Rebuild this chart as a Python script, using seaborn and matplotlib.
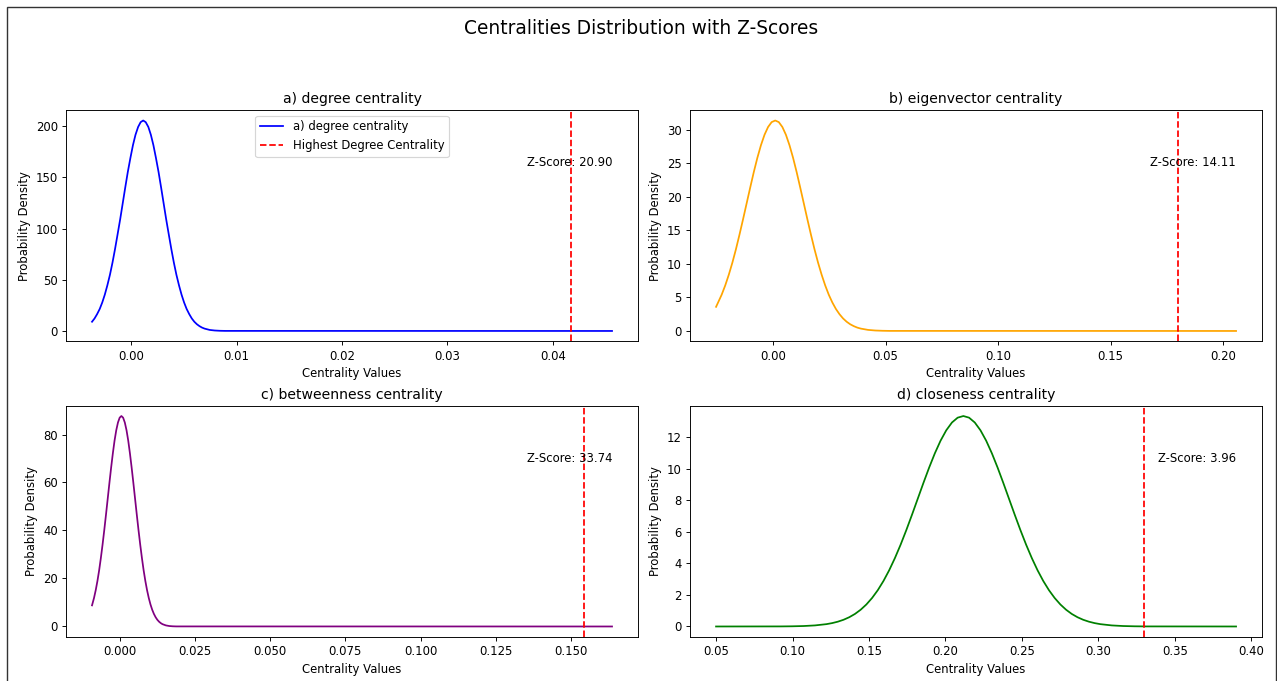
import matplotlib
matplotlib.use("Agg")

import matplotlib.pyplot as plt
from matplotlib.patches import Rectangle
import seaborn as sns

# --- values (x = centrality, y = density) ---
degree_x = [-0.00370, -0.00346, -0.00322, -0.00297, -0.00273, -0.00249, -0.00225,
            -0.00200, -0.00176, -0.00152, -0.00128, -0.00103, -0.00079, -0.00055,
            -0.00031, -0.00006, 0.00018, 0.00042, 0.00067, 0.00091, 0.00115,
            0.00139, 0.00164, 0.00188, 0.00212, 0.00236, 0.00261, 0.00285,
            0.00309, 0.00333, 0.00358, 0.00382, 0.00406, 0.00430, 0.00455,
            0.00479, 0.00503, 0.00527, 0.00552, 0.00576, 0.00600, 0.00624,
            0.00649, 0.00673, 0.00697, 0.00746, 0.00794, 0.00843, 0.00891, 0.0456]
degree_y = [9.0, 12.2, 16.4, 21.5, 27.8, 35.4, 44.4, 54.9, 66.7, 79.9, 94.1,
            109.1, 124.6, 140.1, 155.1, 169.0, 181.4, 191.5, 199.2, 203.9, 205.5,
            203.9, 199.2, 191.5, 181.4, 169.0, 155.1, 140.1, 124.6, 109.1, 94.1,
            79.9, 66.7, 54.9, 44.4, 35.4, 27.8, 21.5, 16.4, 12.2, 9.0, 6.6,
            4.7, 3.3, 2.3, 1.0, 0.45, 0.18, 0.07, 0.0]

eigen_x = [-0.0254, -0.02450, -0.02291, -0.02133, -0.01974, -0.01815, -0.01656,
           -0.01498, -0.01339, -0.0118, -0.01021, -0.00863, -0.00704, -0.00545,
           -0.00386, -0.00228, -0.00069, 0.0009, 0.00249, 0.00408, 0.00566,
           0.00725, 0.00884, 0.01043, 0.01201, 0.0136, 0.01519, 0.01678,
           0.01836, 0.01995, 0.02154, 0.02313, 0.02471, 0.0263, 0.02789,
           0.02948, 0.03106, 0.03265, 0.03424, 0.03583, 0.03741, 0.039,
           0.04218, 0.04535, 0.04853, 0.0517, 0.2058]
eigen_y = [3.6, 4.25, 5.41, 6.79, 8.39, 10.19, 12.20, 14.38, 16.68, 19.05, 21.41,
           23.70, 25.83, 27.71, 29.27, 30.43, 31.16, 31.4, 31.16, 30.43, 29.27,
           27.71, 25.83, 23.70, 21.41, 19.05, 16.68, 14.38, 12.20, 10.19, 8.39,
           6.79, 5.41, 4.25, 3.28, 2.50, 1.87, 1.38, 1.00, 0.72, 0.50, 0.35,
           0.16, 0.07, 0.03, 0.01, 0.0]

between_x = [-0.0092, -0.00854, -0.00797, -0.00740, -0.00683, -0.00627, -0.00570,
             -0.00513, -0.00456, -0.00399, -0.00342, -0.00285, -0.00228, -0.00172,
             -0.00115, -0.00058, -0.00001, 0.00056, 0.00113, 0.0017, 0.00227,
             0.00284, 0.0034, 0.00397, 0.00454, 0.00511, 0.00568, 0.00625,
             0.00682, 0.00739, 0.00795, 0.00852, 0.00909, 0.00966, 0.01023,
             0.0108, 0.01137, 0.01194, 0.0125, 0.01307, 0.01364, 0.01421,
             0.01535, 0.01649, 0.01762, 0.01876, 0.1636]
between_y = [8.8, 11.87, 15.12, 18.97, 23.42, 28.47, 34.08, 40.15, 46.58, 53.19,
             59.81, 66.20, 72.14, 77.39, 81.75, 85.00, 87.02, 87.7, 87.02, 85.00,
             81.75, 77.39, 72.14, 66.20, 59.81, 53.19, 46.58, 40.15, 34.08, 28.47,
             23.42, 18.97, 15.12, 11.87, 9.17, 6.98, 5.23, 3.85, 2.80, 2.00,
             1.41, 0.97, 0.45, 0.19, 0.08, 0.03, 0.0]

close_x = [0.05, 0.0923, 0.09976, 0.10722, 0.11469, 0.12215, 0.12588, 0.12961,
           0.13334, 0.13707, 0.14081, 0.14454, 0.14827, 0.152, 0.15573, 0.15946,
           0.16319, 0.16692, 0.17066, 0.17439, 0.17812, 0.18185, 0.18558,
           0.18931, 0.19304, 0.19677, 0.20051, 0.20424, 0.20797, 0.2117,
           0.21543, 0.21916, 0.22289, 0.22663, 0.23036, 0.23409, 0.23782,
           0.24155, 0.24528, 0.24901, 0.25274, 0.25648, 0.26021, 0.26394,
           0.26767, 0.2714, 0.27513, 0.27886, 0.28259, 0.28633, 0.29006,
           0.29379, 0.29752, 0.30125, 0.30871, 0.31618, 0.32364, 0.3311, 0.39]
close_y = [0.0, 0.0045, 0.0118, 0.029, 0.068, 0.148, 0.214, 0.304, 0.425, 0.586,
           0.794, 1.061, 1.394, 1.804, 2.298, 2.883, 3.560, 4.328, 5.180, 6.103,
           7.080, 8.085, 9.091, 10.062, 10.965, 11.764, 12.425, 12.920, 13.226,
           13.33, 13.226, 12.920, 12.425, 11.764, 10.965, 10.062, 9.091, 8.085,
           7.080, 6.103, 5.180, 4.328, 3.560, 2.883, 2.298, 1.804, 1.394, 1.061,
           0.794, 0.586, 0.425, 0.304, 0.214, 0.148, 0.068, 0.029, 0.0118,
           0.0045, 0.0]

titles = ["a) degree centrality", "b) eigenvector centrality",
          "c) betweenness centrality", "d) closeness centrality"]
colors = ["blue", "orange", "purple", "green"]
highest_values = [0.04167, 0.1801, 0.1542, 0.3299]
z_scores = [20.90, 14.11, 33.74, 3.96]

curves = [(degree_x, degree_y), (eigen_x, eigen_y),
          (between_x, between_y), (close_x, close_y)]

DPI = 84
fig, axes = plt.subplots(2, 2, figsize=(1277 / DPI, 681 / DPI), dpi=DPI)
fig.subplots_adjust(left=0.0517, right=0.9883, top=0.8385, bottom=0.0646,
                    wspace=0.091, hspace=0.2765)

for i, ax in enumerate(axes.flat):
    xs, ys = curves[i]
    sns.lineplot(x=xs, y=ys, ax=ax, color=colors[i], linewidth=1.5,
                 label=titles[i] if i == 0 else None, legend=(i == 0))
    ax.axvline(highest_values[i], color="red", linestyle="--", linewidth=1.5,
               label="Highest Degree Centrality" if i == 0 else None)
    ax.text(max(xs), 0.8 * max(ys), f"Z-Score: {z_scores[i]:.2f}",
            ha="right", va="center", fontsize=10)
    ax.set_title(titles[i], fontsize=12)
    ax.set_xlabel("Centrality Values")
    ax.set_ylabel("Probability Density")
    if i == 0:
        ax.legend(loc="upper center")

fig.suptitle("Centralities Distribution with Z-Scores", fontsize=16,
             x=0.5023, y=1 - 19 / 681, va="top")

# thin frame around the figure, as in the reference screenshot
fig.add_artist(Rectangle((7 / 1277, -0.05), 1269 / 1277, 1.05 - 7.5 / 681,
                         transform=fig.transFigure, fill=False,
                         edgecolor="#333333", linewidth=1.2, clip_on=False))

fig.savefig("out.png", dpi=DPI)
plt.close(fig)
